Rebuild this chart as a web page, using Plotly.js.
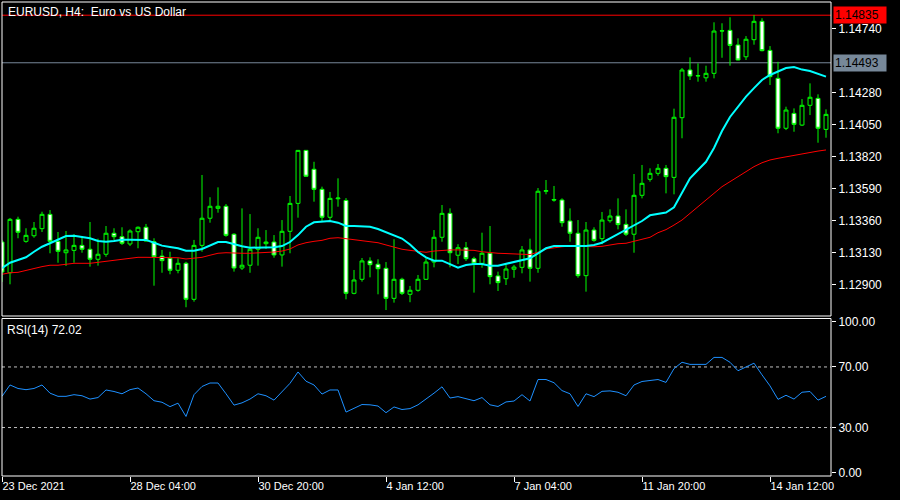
<!DOCTYPE html>
<html><head><meta charset="utf-8">
<script src="https://cdn.plot.ly/plotly-3.0.1.min.js"></script>
<style>html,body{margin:0;padding:0;background:#000;}#chart{width:900px;height:500px;}</style>
</head><body><div id="chart"></div>
<script>
// EURUSD H4 candles (bar 0 = 23 Dec 2021 ...)
const openP = [1.13204,1.12983,1.13367,1.13209,1.13249,1.13300,1.13403,1.13209,1.13127,1.13144,
1.13180,1.13152,1.13080,1.13116,1.13267,1.13242,1.13190,1.13278,1.13310,1.13206,
1.13103,1.13087,1.13001,1.13051,1.12792,1.13180,1.13375,1.13446,1.13461,1.13260,
1.13017,1.13037,1.13152,1.13192,1.13204,1.13111,1.13281,1.13482,1.13863,1.13727,
1.13583,1.13382,1.13515,1.13503,1.12835,1.12936,1.13068,1.13044,1.13015,1.12799,
1.12936,1.12828,1.12857,1.12936,1.13060,1.13238,1.13410,1.13109,1.13163,1.13084,
1.13051,1.13123,1.12960,1.12940,1.13008,1.13022,1.13147,1.13015,1.13569,1.13510,
1.13506,1.13355,1.13267,1.12962,1.13290,1.13228,1.13357,1.13391,1.13331,1.13260,
1.13540,1.13655,1.13698,1.13734,1.13669,1.14098,1.14441,1.14398,1.14385,1.14417,
1.14721,1.14726,1.14621,1.14536,1.14659,1.14791,1.14582,1.14381,1.14022,1.14129,
1.14045,1.14187,1.14237,1.14014];
const highP = [1.13219,1.13377,1.13386,1.13303,1.13348,1.13422,1.13434,1.13276,1.13283,1.13260,
1.13242,1.13348,1.13228,1.13319,1.13303,1.13310,1.13295,1.13316,1.13334,1.13231,
1.13147,1.13134,1.13087,1.13062,1.13219,1.13686,1.13526,1.13597,1.13477,1.13267,
1.13446,1.13405,1.13303,1.13290,1.13254,1.13362,1.13535,1.13866,1.13866,1.13781,
1.13602,1.13564,1.13662,1.13520,1.13003,1.13089,1.13094,1.13080,1.13060,1.13224,
1.12947,1.12888,1.12967,1.13087,1.13290,1.13470,1.13446,1.13188,1.13204,1.13098,
1.13271,1.13319,1.12991,1.13039,1.13039,1.13175,1.13228,1.13592,1.13650,1.13607,
1.13518,1.13446,1.13362,1.13348,1.13310,1.13420,1.13439,1.13518,1.13439,1.13693,
1.13758,1.13734,1.13765,1.13758,1.14163,1.14455,1.14532,1.14489,1.14472,1.14784,
1.14777,1.14820,1.14669,1.14685,1.14836,1.14813,1.14613,1.14500,1.14177,1.14165,
1.14232,1.14345,1.14266,1.14158];
const lowP = [1.12917,1.12900,1.13231,1.13199,1.13235,1.13276,1.13123,1.13055,1.13032,1.13055,
1.13127,1.13027,1.13034,1.13098,1.13219,1.13183,1.13175,1.13159,1.13208,1.12890,
1.12983,1.12972,1.12979,1.12735,1.12775,1.13134,1.13343,1.13415,1.13242,1.12991,
1.13003,1.12983,1.13034,1.13154,1.13091,1.13027,1.13123,1.13379,1.13674,1.13494,
1.13350,1.13350,1.13458,1.12792,1.12828,1.12919,1.12950,1.12828,1.12715,1.12768,
1.12823,1.12771,1.12847,1.12931,1.13022,1.13206,1.13022,1.13046,1.13068,1.12840,
1.13019,1.12900,1.12852,1.12895,1.12947,1.12979,1.12919,1.12983,1.13547,1.13494,
1.13314,1.13206,1.12947,1.12847,1.13206,1.13188,1.13343,1.13295,1.13247,1.13127,
1.13518,1.13638,1.13681,1.13554,1.13547,1.13950,1.14369,1.14357,1.14357,1.14381,
1.14529,1.14472,1.14510,1.14513,1.14623,1.14575,1.14333,1.13986,1.14009,1.13997,
1.14038,1.14117,1.13918,1.13954];
const closeP = [1.12988,1.13367,1.13274,1.13252,1.13303,1.13403,1.13209,1.13137,1.13147,1.13180,
1.13152,1.13080,1.13116,1.13267,1.13242,1.13195,1.13283,1.13310,1.13211,1.13098,
1.13070,1.13001,1.13051,1.12792,1.13180,1.13375,1.13461,1.13461,1.13252,1.13017,
1.13037,1.13152,1.13238,1.13204,1.13111,1.13281,1.13482,1.13863,1.13677,1.13583,
1.13382,1.13518,1.13520,1.12835,1.12931,1.13068,1.13041,1.13012,1.12799,1.12936,
1.12835,1.12857,1.12936,1.13060,1.13238,1.13410,1.13127,1.13163,1.13084,1.13051,
1.13123,1.12955,1.12912,1.13010,1.13024,1.13147,1.13015,1.13569,1.13573,1.13506,
1.13343,1.13267,1.12962,1.13290,1.13216,1.13362,1.13391,1.13329,1.13260,1.13540,
1.13626,1.13698,1.13734,1.13674,1.14101,1.14441,1.14398,1.14400,1.14417,1.14721,
1.14723,1.14618,1.14513,1.14662,1.14791,1.14580,1.14393,1.14022,1.14153,1.14050,
1.14187,1.14245,1.14022,1.14122];
// Moving averages
const maFast = [1.13015,1.13055,1.13075,1.13094,1.13134,1.13170,1.13195,1.13219,1.13247,1.13249,
1.13242,1.13231,1.13211,1.13206,1.13211,1.13221,1.13221,1.13221,1.13219,1.13199,
1.13178,1.13168,1.13159,1.13142,1.13142,1.13154,1.13180,1.13204,1.13204,1.13188,
1.13173,1.13163,1.13163,1.13163,1.13166,1.13175,1.13204,1.13254,1.13314,1.13346,
1.13348,1.13355,1.13343,1.13319,1.13319,1.13319,1.13314,1.13298,1.13274,1.13254,
1.13229,1.13186,1.13132,1.13094,1.13070,1.13070,1.13046,1.13019,1.13039,1.13046,
1.13046,1.13034,1.13034,1.13046,1.13058,1.13070,1.13087,1.13123,1.13159,1.13175,
1.13175,1.13175,1.13170,1.13175,1.13183,1.13199,1.13231,1.13262,1.13290,1.13319,
1.13355,1.13396,1.13405,1.13416,1.13454,1.13554,1.13662,1.13722,1.13781,1.13880,
1.14002,1.14103,1.14175,1.14250,1.14311,1.14369,1.14405,1.14430,1.14455,1.14462,
1.14444,1.14434,1.14412,1.14393];
const maSlow = [1.12972,1.12983,1.12986,1.13001,1.13015,1.13027,1.13037,1.13037,1.13044,1.13051,
1.13051,1.13051,1.13058,1.13065,1.13073,1.13077,1.13087,1.13094,1.13094,1.13094,
1.13094,1.13094,1.13091,1.13082,1.13089,1.13094,1.13109,1.13123,1.13127,1.13123,
1.13123,1.13123,1.13125,1.13130,1.13132,1.13139,1.13154,1.13183,1.13199,1.13209,
1.13216,1.13231,1.13235,1.13228,1.13221,1.13216,1.13206,1.13199,1.13183,1.13166,
1.13152,1.13144,1.13137,1.13130,1.13139,1.13144,1.13147,1.13147,1.13147,1.13144,
1.13134,1.13127,1.13123,1.13121,1.13116,1.13116,1.13114,1.13131,1.13154,1.13163,
1.13170,1.13175,1.13173,1.13173,1.13170,1.13173,1.13183,1.13192,1.13195,1.13211,
1.13224,1.13238,1.13271,1.13293,1.13326,1.13362,1.13410,1.13458,1.13506,1.13554,
1.13602,1.13638,1.13674,1.13705,1.13746,1.13774,1.13794,1.13806,1.13817,1.13825,
1.13837,1.13846,1.13858,1.13866];
// RSI(14)
const rsi = [50.6,58.1,55.8,55.0,55.8,58.1,52.7,50.6,50.6,51.7,
51.0,48.8,49.8,54.8,53.8,52.3,55.0,56.1,52.3,47.7,
46.7,43.8,46.1,37.3,51.7,57.1,59.4,59.4,52.3,44.8,
46.3,48.8,52.3,51.0,48.1,53.8,59.2,66.7,60.6,58.1,
52.1,54.8,54.8,40.2,42.7,45.2,45.0,44.2,39.8,43.6,
41.9,42.5,45.0,48.6,52.7,56.9,49.5,50.4,48.9,47.7,
49.8,45.0,43.9,46.9,47.5,51.7,47.5,61.7,61.7,59.6,
54.4,52.3,43.9,52.3,50.4,53.9,54.2,53.3,51.0,58.1,
60.4,61.0,61.7,59.8,68.9,73.1,71.7,71.7,71.7,76.3,
76.3,73.1,67.5,70.0,72.5,64.8,57.5,48.6,51.3,48.8,
53.3,53.8,48.1,50.6];
const timeTickBars = [0,16,32,48,64,80,96];
const timeTickText = ['23 Dec 2021','28 Dec 04:00','30 Dec 20:00','4 Jan 12:00','7 Jan 04:00','11 Jan 20:00','14 Jan 12:00'];
const priceTicks = [1.14740,1.14280,1.14050,1.13820,1.13590,1.13360,1.13130,1.12900];
const rsiTicks = [100,70,30,0];
const rsiLevels = [70,30];
const highLine = 1.14835;
const bidLine = 1.14493;
const titleText = 'EURUSD, H4:\u00a0 Euro vs US Dollar';
const rsiText = 'RSI(14) 72.02';

const bars = openP.map((_, i) => i);
const FONT = '"Liberation Sans", Arial, sans-serif';
const MAIN_DOM = [0.33755, 1];
const RSI_DOM = [0, 0.33228];

const traces = [
  {type:'candlestick', x:bars, open:openP, high:highP, low:lowP, close:closeP, xaxis:'x', yaxis:'y',
   increasing:{line:{color:'#00ff00', width:1}, fillcolor:'#000000'},
   decreasing:{line:{color:'#00ff00', width:1}, fillcolor:'#ffffff'},
   whiskerwidth:0, hoverinfo:'skip', showlegend:false},
  {type:'scatter', mode:'lines', x:bars, y:maSlow, xaxis:'x', yaxis:'y',
   line:{color:'#ff0000', width:1}, hoverinfo:'skip', showlegend:false},
  {type:'scatter', mode:'lines', x:bars, y:maFast, xaxis:'x', yaxis:'y',
   line:{color:'#00ffff', width:2}, hoverinfo:'skip', showlegend:false},
  {type:'scatter', mode:'lines', x:bars, y:rsi, xaxis:'x', yaxis:'y2',
   line:{color:'#1e90ff', width:1}, hoverinfo:'skip', showlegend:false}
];

const shapes = [
  {type:'line', xref:'paper', x0:0, x1:1, yref:'y', y0:highLine, y1:highLine, line:{color:'#ff0000', width:1}, layer:'below'},
  {type:'line', xref:'paper', x0:0, x1:1, yref:'y', y0:bidLine, y1:bidLine, line:{color:'#778899', width:1}, layer:'below'},
  {type:'rect', xref:'paper', yref:'paper', x0:0, x1:1, y0:MAIN_DOM[0], y1:MAIN_DOM[1], line:{color:'#ffffff', width:1}, fillcolor:'rgba(0,0,0,0)', layer:'above'},
  {type:'rect', xref:'paper', yref:'paper', x0:0, x1:1, y0:RSI_DOM[0], y1:RSI_DOM[1], line:{color:'#ffffff', width:1}, fillcolor:'rgba(0,0,0,0)', layer:'above'}
];
rsiLevels.forEach(v => shapes.push({type:'line', xref:'paper', x0:0, x1:1, yref:'y2', y0:v, y1:v,
  line:{color:'#c0c0c0', width:1, dash:'3px,3px'}, layer:'below'}));

const annotations = [
  {xref:'paper', yref:'paper', x:0, y:1, xanchor:'left', yanchor:'top', xshift:4, yshift:-1, showarrow:false,
   text:titleText, font:{family:FONT, size:12, color:'#ffffff'}},
  {xref:'paper', yref:'paper', x:0, y:RSI_DOM[1], xanchor:'left', yanchor:'top', xshift:3, yshift:-3, showarrow:false,
   text:rsiText, font:{family:FONT, size:12, color:'#ffffff'}},
  {xref:'paper', yref:'y', x:1, y:highLine, xanchor:'left', yanchor:'middle', xshift:2, showarrow:false,
   text:highLine.toFixed(5), bgcolor:'#ff0000', borderpad:1, width:50, align:'left',
   font:{family:FONT, size:12, color:'#000000'}},
  {xref:'paper', yref:'y', x:1, y:bidLine, xanchor:'left', yanchor:'middle', xshift:2, showarrow:false,
   text:bidLine.toFixed(5), bgcolor:'#778899', borderpad:1, width:50, align:'left',
   font:{family:FONT, size:12, color:'#000000'}}
];

const layout = {
  width:900, height:500,
  paper_bgcolor:'#000000', plot_bgcolor:'#000000',
  margin:{l:2, r:69, t:2, b:24},
  showlegend:false,
  font:{family:FONT, color:'#ffffff', size:12},
  xaxis:{domain:[0,1], anchor:'y2', range:[0, 103.625], rangeslider:{visible:false},
    tickmode:'array', tickvals:timeTickBars, ticktext:timeTickText,
    ticks:'outside', ticklen:5, tickcolor:'#ffffff', tickwidth:1,
    ticklabelposition:'outside right',
    tickfont:{family:FONT, size:11, color:'#ffffff'},
    showgrid:false, zeroline:false, showline:false, fixedrange:true},
  yaxis:{domain:MAIN_DOM, anchor:'x', side:'right', range:[1.12672, 1.14930],
    tickmode:'array', tickvals:priceTicks, ticktext:priceTicks.map(v => v.toFixed(5)),
    ticks:'outside', ticklen:4, tickcolor:'#ffffff', tickwidth:1,
    tickfont:{family:FONT, size:12, color:'#ffffff'},
    showgrid:false, zeroline:false, showline:false, fixedrange:true},
  yaxis2:{domain:RSI_DOM, anchor:'x', side:'right', range:[-2, 102],
    tickmode:'array', tickvals:rsiTicks, ticktext:rsiTicks.map(v => v.toFixed(2)),
    ticks:'outside', ticklen:4, tickcolor:'#ffffff', tickwidth:1,
    tickfont:{family:FONT, size:12, color:'#ffffff'},
    showgrid:false, zeroline:false, showline:false, fixedrange:true},
  shapes:shapes,
  annotations:annotations
};

Plotly.newPlot('chart', traces, layout, {staticPlot:true, displayModeBar:false});
</script>
</body></html>
